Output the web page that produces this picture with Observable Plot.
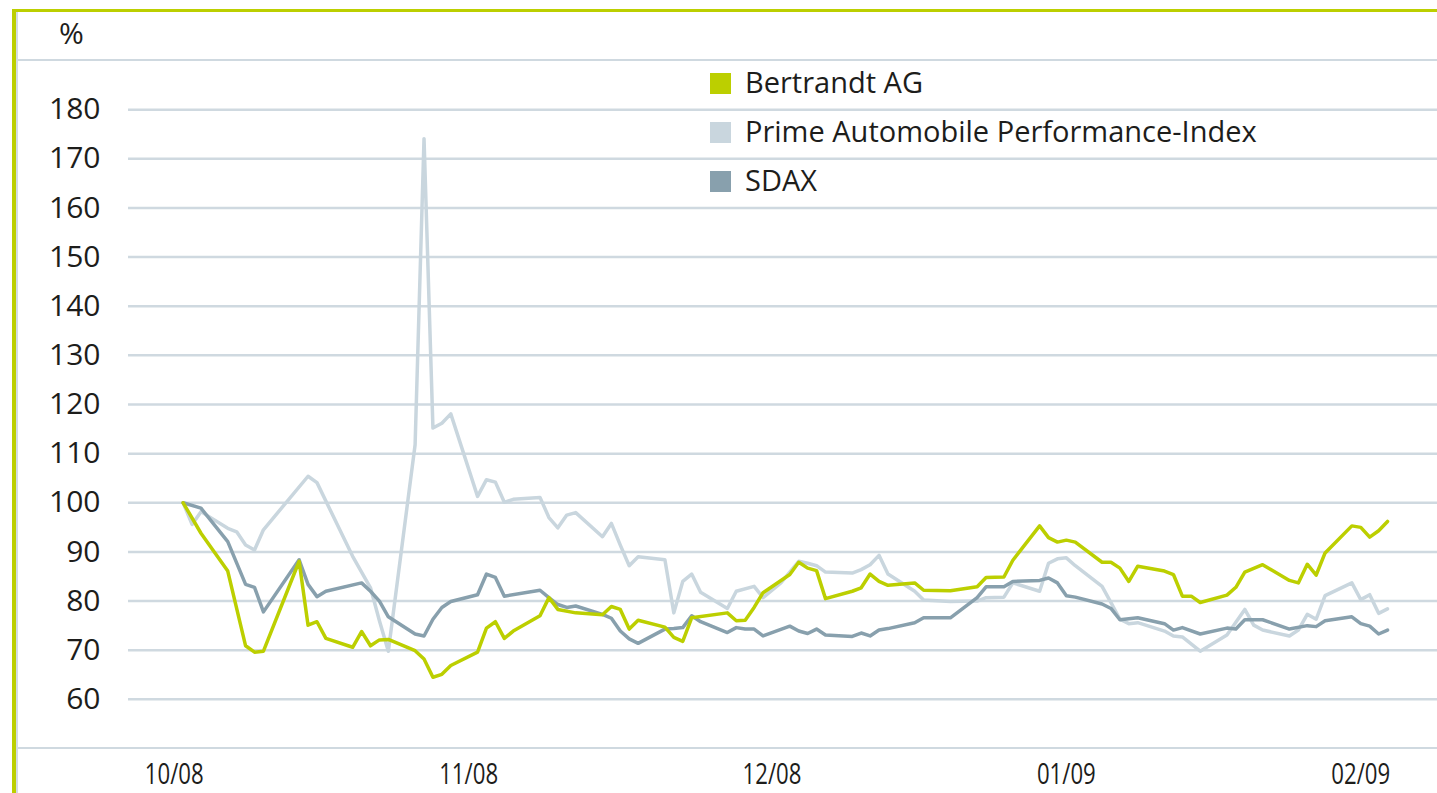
<!DOCTYPE html>
<html><head><meta charset="utf-8">
<script src="https://cdn.jsdelivr.net/npm/d3@7"></script>
<script src="https://cdn.jsdelivr.net/npm/@observablehq/plot@0.6"></script>
<style>
body{margin:0;background:#fff;font-family:"Open Sans",sans-serif;color:#1d1d1b;}
#wrap{position:relative;width:1437px;height:793px;overflow:hidden;background:#fff;}
#wrap svg{position:absolute;left:0;top:0;}
.deco{position:absolute;}
.leg{position:absolute;left:710px;height:30px;line-height:30px;font-size:29px;white-space:nowrap;}
.leg .sq{position:absolute;left:0;top:6px;width:21px;height:21px;}
.leg .tx{position:absolute;left:35px;top:0;}
#pct{position:absolute;left:59px;top:18px;font-size:30px;line-height:30px;}
</style></head><body><div id="wrap"></div>
<script>
// ---- data, indexed to 100 on 2008-10-01 ----
const bertrandtDates = ["2008-10-01","2008-10-03","2008-10-06","2008-10-08","2008-10-09","2008-10-10","2008-10-14","2008-10-15","2008-10-16","2008-10-17","2008-10-20","2008-10-21","2008-10-22","2008-10-23","2008-10-24","2008-10-27","2008-10-28","2008-10-29","2008-10-30","2008-10-31","2008-11-03","2008-11-04","2008-11-05","2008-11-06","2008-11-07","2008-11-10","2008-11-11","2008-11-12","2008-11-14","2008-11-17","2008-11-18","2008-11-19","2008-11-20","2008-11-21","2008-11-24","2008-11-25","2008-11-26","2008-11-27","2008-12-01","2008-12-02","2008-12-03","2008-12-04","2008-12-05","2008-12-08","2008-12-09","2008-12-10","2008-12-11","2008-12-12","2008-12-15","2008-12-16","2008-12-17","2008-12-18","2008-12-19","2008-12-22","2008-12-23","2008-12-26","2008-12-29","2008-12-30","2009-01-01","2009-01-02","2009-01-05","2009-01-06","2009-01-07","2009-01-08","2009-01-09","2009-01-12","2009-01-13","2009-01-14","2009-01-15","2009-01-16","2009-01-19","2009-01-20","2009-01-21","2009-01-22","2009-01-23","2009-01-26","2009-01-27","2009-01-28","2009-01-30","2009-02-02","2009-02-03","2009-02-04","2009-02-05","2009-02-06","2009-02-09","2009-02-10","2009-02-11","2009-02-12","2009-02-13"];
const bertrandtValues = [100,93.8,86.1,70.9,69.6,69.8,88.1,75.1,75.8,72.4,70.6,73.8,70.9,72.1,72.2,69.9,68.2,64.5,65.1,66.9,69.6,74.5,75.8,72.4,73.9,77.0,80.7,78.3,77.6,77.2,78.9,78.3,74.3,76.1,74.7,72.6,71.8,76.6,77.6,76.0,76.1,78.7,81.7,85.4,87.9,86.7,86.2,80.5,82.0,82.7,85.5,84.0,83.2,83.7,82.2,82.1,82.9,84.8,84.9,88.3,95.3,92.9,92.0,92.4,92.0,87.9,87.9,86.7,84.0,87.1,86.1,85.4,81.0,81.0,79.7,81.2,82.8,85.9,87.4,84.2,83.7,87.5,85.3,89.8,95.3,95.0,93.0,94.3,96.2];

const primeDates = ["2008-10-01","2008-10-02","2008-10-03","2008-10-06","2008-10-07","2008-10-08","2008-10-09","2008-10-10","2008-10-15","2008-10-16","2008-10-20","2008-10-22","2008-10-23","2008-10-24","2008-10-27","2008-10-28","2008-10-29","2008-10-30","2008-10-31","2008-11-03","2008-11-04","2008-11-05","2008-11-06","2008-11-07","2008-11-10","2008-11-11","2008-11-12","2008-11-13","2008-11-14","2008-11-17","2008-11-18","2008-11-19","2008-11-20","2008-11-21","2008-11-24","2008-11-25","2008-11-26","2008-11-27","2008-11-28","2008-12-01","2008-12-02","2008-12-04","2008-12-05","2008-12-07","2008-12-09","2008-12-10","2008-12-11","2008-12-12","2008-12-15","2008-12-16","2008-12-17","2008-12-18","2008-12-19","2008-12-22","2008-12-23","2008-12-26","2008-12-29","2008-12-30","2009-01-01","2009-01-02","2009-01-05","2009-01-06","2009-01-07","2009-01-08","2009-01-09","2009-01-12","2009-01-13","2009-01-14","2009-01-15","2009-01-16","2009-01-19","2009-01-20","2009-01-21","2009-01-23","2009-01-26","2009-01-28","2009-01-29","2009-01-30","2009-02-02","2009-02-03","2009-02-04","2009-02-05","2009-02-06","2009-02-09","2009-02-10","2009-02-11","2009-02-12","2009-02-13"];
const primeValues = [100,95.6,98.2,94.8,94.1,91.4,90.4,94.5,105.4,104.1,89.1,82.7,76.0,69.8,111.8,174.1,115.2,116.2,118.1,101.3,104.7,104.2,100.1,100.7,101.1,97.0,94.9,97.5,98.0,93.1,95.8,91.4,87.2,89.0,88.4,77.6,84.0,85.5,81.8,78.5,82.0,83.0,80.7,83.7,88.1,87.7,87.2,85.9,85.7,86.4,87.4,89.3,85.5,82.0,80.2,79.9,80.0,80.7,80.8,83.7,82.0,87.7,88.6,88.8,87.2,83.0,79.7,76.3,75.4,75.6,73.9,72.9,72.7,69.8,73.1,78.3,75.1,74.1,72.9,74.1,77.3,76.3,81.1,83.7,80.3,81.3,77.5,78.4];

const sdaxDates = ["2008-10-01","2008-10-03","2008-10-06","2008-10-08","2008-10-09","2008-10-10","2008-10-14","2008-10-15","2008-10-16","2008-10-17","2008-10-21","2008-10-22","2008-10-23","2008-10-24","2008-10-27","2008-10-28","2008-10-29","2008-10-30","2008-10-31","2008-11-03","2008-11-04","2008-11-05","2008-11-06","2008-11-10","2008-11-11","2008-11-12","2008-11-13","2008-11-14","2008-11-17","2008-11-18","2008-11-19","2008-11-20","2008-11-21","2008-11-24","2008-11-25","2008-11-26","2008-11-27","2008-11-28","2008-12-01","2008-12-02","2008-12-03","2008-12-04","2008-12-05","2008-12-08","2008-12-09","2008-12-10","2008-12-11","2008-12-12","2008-12-15","2008-12-16","2008-12-17","2008-12-18","2008-12-19","2008-12-22","2008-12-23","2008-12-26","2008-12-29","2008-12-30","2009-01-01","2009-01-02","2009-01-05","2009-01-06","2009-01-07","2009-01-08","2009-01-09","2009-01-12","2009-01-13","2009-01-14","2009-01-16","2009-01-19","2009-01-20","2009-01-21","2009-01-23","2009-01-26","2009-01-27","2009-01-28","2009-01-30","2009-02-02","2009-02-04","2009-02-05","2009-02-06","2009-02-09","2009-02-10","2009-02-11","2009-02-12","2009-02-13"];
const sdaxValues = [100,98.9,92.1,83.4,82.8,77.8,88.4,83.4,80.9,82.0,83.7,82.0,80.0,76.8,73.3,72.9,76.3,78.7,79.9,81.3,85.5,84.8,81.0,82.2,80.7,79.3,78.7,79.0,77.3,76.5,73.9,72.3,71.4,74.3,74.4,74.6,77.0,75.8,73.6,74.6,74.3,74.3,72.9,74.9,73.9,73.4,74.3,73.1,72.8,73.5,72.9,74.1,74.4,75.6,76.6,76.6,80.7,82.9,82.9,84.0,84.2,84.7,83.7,81.1,80.8,79.4,78.5,76.2,76.6,75.4,74.1,74.6,73.3,74.5,74.3,76.2,76.2,74.3,75.0,74.8,76.0,76.8,75.4,74.9,73.3,74.1];

const seriesNames = ["Bertrandt AG", "Prime Automobile Performance-Index", "SDAX"];
const seriesColors = ["#bccf00", "#c9d6de", "#88a0ad"];
const yTicks = [60, 70, 80, 90, 100, 110, 120, 130, 140, 150, 160, 170, 180];
const xTickDates = ["2008-09-30", "2008-11-02", "2008-12-06", "2009-01-08", "2009-02-10"];
const xTickLabels = ["10/08", "11/08", "12/08", "01/09", "02/09"];
const unitLabel = "%";

// ---- build tables ----
function rows(dates, values, name) {
  return dates.map((d, i) => ({date: new Date(d + "T00:00:00Z"), value: values[i], series: name}));
}
const bertrandt = rows(bertrandtDates, bertrandtValues, seriesNames[0]);
const prime = rows(primeDates, primeValues, seriesNames[1]);
const sdax = rows(sdaxDates, sdaxValues, seriesNames[2]);
const tickDates = xTickDates.map(d => new Date(d + "T00:00:00Z"));
const tickLabelMap = new Map(tickDates.map((d, i) => [+d, xTickLabels[i]]));
const gridColor = "#cfd9e0";

const chart = Plot.plot({
  width: 1437, height: 793,
  marginTop: 60, marginBottom: 45, marginLeft: 128, marginRight: 0,
  x: {type: "utc", domain: [new Date("2008-09-24T21:00:00Z"), new Date("2009-02-18T14:24:00Z")]},
  y: {domain: [50, 190]},
  style: {fontFamily: "'Open Sans', sans-serif", fontSize: "30px", color: "#1d1d1b", background: "transparent", overflow: "visible"},
  marks: [
    Plot.ruleY(yTicks, {stroke: gridColor, strokeWidth: 2.5}),
    Plot.line(prime, {x: "date", y: "value", stroke: seriesColors[1], strokeWidth: 3.5}),
    Plot.line(sdax, {x: "date", y: "value", stroke: seriesColors[2], strokeWidth: 3.5}),
    Plot.line(bertrandt, {x: "date", y: "value", stroke: seriesColors[0], strokeWidth: 3.5}),
    Plot.axisY(yTicks, {tickSize: 0, tickPadding: 28, label: null, fontSize: 30}),
    Plot.axisX(tickDates, {tickSize: 0, tickPadding: 14, label: null, fontSize: 30, tickFormat: d => tickLabelMap.get(+d)})
  ]
});

// condense the x tick labels horizontally (the reference uses a narrow face there)
chart.querySelectorAll('g[aria-label="x-axis tick label"] text').forEach(t => {
  const tr = t.getAttribute("transform");
  if (tr) {
    t.setAttribute("transform", tr + " scale(0.74,1)");
  } else {
    const x = t.getAttribute("x") || 0, y = t.getAttribute("y") || 0;
    t.setAttribute("x", 0); t.setAttribute("y", 0);
    t.setAttribute("transform", `translate(${x},${y}) scale(0.74,1)`);
  }
});

const wrap = document.getElementById("wrap");
wrap.appendChild(chart);

// frame decoration
function deco(css) { const d = document.createElement("div"); d.className = "deco"; d.style.cssText = css; wrap.appendChild(d); }
deco("left:16px;right:0;top:58.75px;height:2.5px;background:" + gridColor);
deco("left:16px;right:0;top:746.75px;height:2.5px;background:" + gridColor);
deco("left:15.5px;top:12px;width:2px;bottom:0;background:#d3dce2");
deco("left:12px;top:9px;width:3.5px;bottom:0;background:#bccf00");
deco("left:12px;right:0;top:9px;height:3px;background:#bccf00");

// unit label
const pct = document.createElement("div"); pct.id = "pct"; pct.textContent = unitLabel; wrap.appendChild(pct);

// legend
seriesNames.forEach((name, i) => {
  const row = document.createElement("div");
  row.className = "leg";
  row.style.top = (66.7 + 49.2 * i) + "px";
  const sq = document.createElement("div"); sq.className = "sq"; sq.style.background = seriesColors[i];
  const tx = document.createElement("div"); tx.className = "tx"; tx.textContent = name;
  row.appendChild(sq); row.appendChild(tx);
  wrap.appendChild(row);
});
</script></body></html>
